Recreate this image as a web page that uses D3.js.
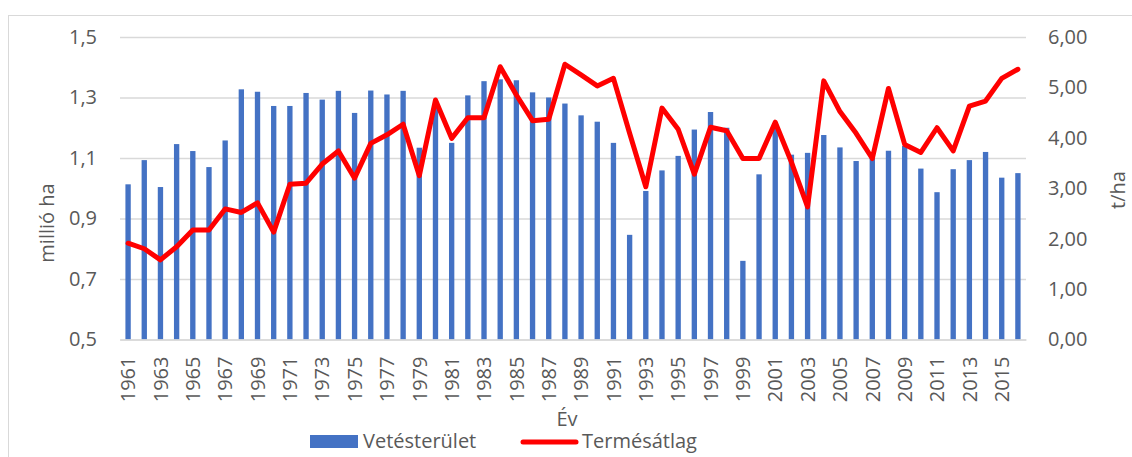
<!DOCTYPE html>
<html><head><meta charset="utf-8">
<script src="https://cdn.jsdelivr.net/npm/d3@7"></script>
<style>
html,body{margin:0;padding:0;background:#fff;}
svg{display:block;font-family:"Open Sans",sans-serif;}
</style></head>
<body>
<svg id="chart" width="1132" height="457"></svg>
<script>
const years = ["1961","1962","1963","1964","1965","1966","1967","1968","1969","1970",
"1971","1972","1973","1974","1975","1976","1977","1978","1979","1980",
"1981","1982","1983","1984","1985","1986","1987","1988","1989","1990",
"1991","1992","1993","1994","1995","1996","1997","1998","1999","2000",
"2001","2002","2003","2004","2005","2006","2007","2008","2009","2010",
"2011","2012","2013","2014","2015","2016"];
const area = [1.013,1.093,1.004,1.146,1.123,1.070,1.158,1.327,1.319,1.272,
1.272,1.315,1.293,1.322,1.249,1.323,1.310,1.322,1.134,1.270,
1.150,1.307,1.354,1.360,1.357,1.317,1.300,1.280,1.241,1.220,
1.150,0.846,0.991,1.059,1.107,1.194,1.252,1.200,0.760,1.046,
1.200,1.111,1.117,1.176,1.135,1.090,1.100,1.124,1.140,1.065,
0.987,1.063,1.093,1.120,1.035,1.050];
const yieldAvg = [1.91,1.80,1.58,1.84,2.17,2.17,2.59,2.52,2.71,2.13,
3.08,3.10,3.48,3.74,3.20,3.89,4.06,4.27,3.25,4.75,
3.99,4.40,4.40,5.41,4.85,4.34,4.37,5.46,5.25,5.03,
5.18,4.09,3.03,4.59,4.17,3.28,4.21,4.14,3.59,3.59,
4.31,3.52,2.63,5.13,4.52,4.09,3.59,4.98,3.87,3.71,
4.20,3.74,4.63,4.73,5.18,5.36];
const leftTicks = [0.5,0.7,0.9,1.1,1.3,1.5];
const rightTicks = [0,1,2,3,4,5,6];
const seriesNames = ["Vetésterület","Termésátlag"];
const axisTitles = {left:"millió ha", right:"t/ha", bottom:"Év"};

const svg = d3.select("#chart");
const L=120, R=1026, T=37, B=339.5;
const textCol = "#595959", gridCol = "#d9d9d9";
const fmt = d3.format(".1f");

// chart border
svg.append("rect").attr("x",8.5).attr("y",15.5).attr("width",1200).attr("height",600)
  .attr("fill","none").attr("stroke",gridCol).attr("stroke-width",1);

const x = d3.scaleBand().domain(years).range([L,R]).paddingInner(0.67).paddingOuter(0.335);
const yL = d3.scaleLinear().domain([0.5,1.5]).range([B,T]);
const yR = d3.scaleLinear().domain([0,6]).range([B,T]);

// gridlines
const gridAxis = d3.axisLeft(yL).tickValues(leftTicks).tickSize(-(R-L)).tickFormat("");
const gg = svg.append("g").attr("transform",`translate(${L},0)`).call(gridAxis);
gg.select(".domain").remove();
gg.selectAll("line").attr("stroke",gridCol).attr("stroke-width",1.3);

// left axis labels
const la = svg.append("g").attr("transform",`translate(${L},0)`)
  .call(d3.axisLeft(yL).tickValues(leftTicks).tickSize(0).tickPadding(23)
    .tickFormat(d=>fmt(d).replace(".",",")));
la.select(".domain").remove();
la.selectAll("text").attr("fill",textCol).style("font-size","20px").style("font-family","Open Sans");

// right axis labels
const ra = svg.append("g").attr("transform",`translate(${R},0)`)
  .call(d3.axisRight(yR).tickValues(rightTicks).tickSize(0).tickPadding(22)
    .tickFormat(d=>d3.format(".2f")(d).replace(".",",")));
ra.select(".domain").remove();
ra.selectAll("text").attr("fill",textCol).style("font-size","20px").style("font-family","Open Sans");

// bars
svg.append("g").selectAll("rect").data(years).join("rect")
  .attr("x",d=>x(d)).attr("width",x.bandwidth())
  .attr("y",(d,i)=>yL(area[i])).attr("height",(d,i)=>yL(0.5)-yL(area[i]))
  .attr("fill","#4472C4");

// bottom axis
const ba = svg.append("g").attr("transform",`translate(0,${B})`)
  .call(d3.axisBottom(x).tickValues(years.filter((d,i)=>i%2===0)).tickSize(0).tickPadding(0));
ba.select(".domain").attr("stroke",gridCol).attr("stroke-width",1.3);
ba.selectAll("text").attr("fill",textCol).style("font-size","20px").style("font-family","Open Sans")
  .attr("transform","rotate(-90)").attr("text-anchor","end")
  .attr("x",-17).attr("y",0).attr("dy","0.36em");

// line
const line = d3.line().x((d,i)=>x(years[i])+x.bandwidth()/2).y(d=>yR(d));
svg.append("path").datum(yieldAvg).attr("d",line)
  .attr("fill","none").attr("stroke","#FF0000").attr("stroke-width",5)
  .attr("stroke-linejoin","round").attr("stroke-linecap","round");

// axis titles
svg.append("text").attr("transform","translate(54,223) rotate(-90)").attr("text-anchor","middle")
  .attr("fill",textCol).style("font-size","20px").text(axisTitles.left);
svg.append("text").attr("transform","translate(1125,190) rotate(-90)").attr("text-anchor","middle")
  .attr("fill",textCol).style("font-size","20px").text(axisTitles.right);
svg.append("text").attr("x",567).attr("y",426).attr("text-anchor","middle")
  .attr("fill",textCol).style("font-size","20px").text(axisTitles.bottom);

// legend
svg.append("rect").attr("x",310).attr("y",435).attr("width",48).attr("height",13).attr("fill","#4472C4");
svg.append("text").attr("x",363).attr("y",448).attr("fill",textCol).style("font-size","20px").text(seriesNames[0]);
svg.append("line").attr("x1",523).attr("x2",576).attr("y1",442).attr("y2",442)
  .attr("stroke","#FF0000").attr("stroke-width",5).attr("stroke-linecap","round");
svg.append("text").attr("x",582).attr("y",448).attr("fill",textCol).style("font-size","20px").text(seriesNames[1]);
</script>
</body></html>
